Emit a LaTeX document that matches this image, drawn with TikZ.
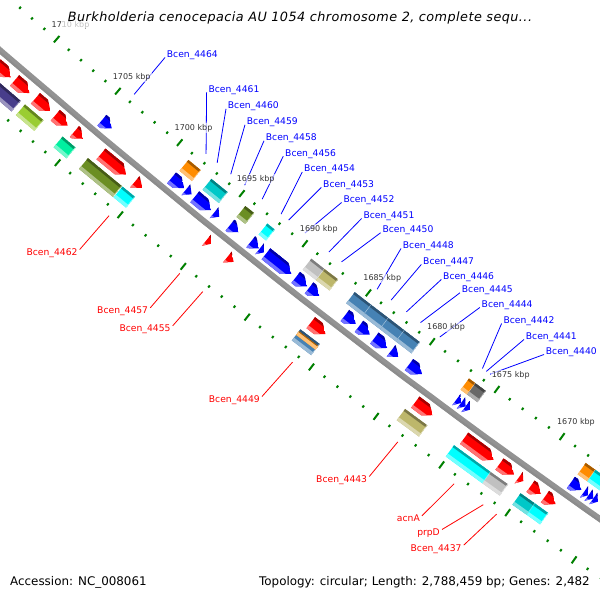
\documentclass[tikz,border=0pt]{standalone}
\usepackage{fontspec}
\setmainfont{DejaVu Sans}
\definecolor{gblue}{RGB}{0,0,255}
\definecolor{gred}{RGB}{255,0,0}
\definecolor{gorange}{RGB}{255,140,0}
\definecolor{gteal}{RGB}{0,200,200}
\definecolor{gcyan}{RGB}{0,255,255}
\definecolor{golive}{RGB}{107,142,35}
\definecolor{gsilver}{RGB}{192,192,192}
\definecolor{gkhaki}{RGB}{189,183,107}
\definecolor{gsteel}{RGB}{70,130,180}
\definecolor{gdim}{RGB}{105,105,105}
\definecolor{gslate}{RGB}{72,61,139}
\definecolor{glime}{RGB}{154,205,50}
\definecolor{gmint}{RGB}{0,240,160}
\definecolor{tickgreen}{RGB}{0,128,0}
\definecolor{kbpgray}{RGB}{51,51,51}
% gene: high kbp, low kbp, inner s, outer s, colour, 0 box / 1 head at low kbp
\newcommand{\gene}[6]{%
  \pgfmathsetmacro\ghd{min(0.55,#1-#2)}%
  \pgfmathsetmacro\gsm{(#3+#4)/2}%
  \ifcase#6
    \def\gshape{({kpa(#1)}:{rs(#3)}) -- ({kpa(#2)}:{rs(#3)}) -- ({kpa(#2)}:{rs(#4)}) -- ({kpa(#1)}:{rs(#4)}) -- cycle}%
  \or
    \pgfmathsetmacro\gph{#2+\ghd}%
    \def\gshape{({kpa(#1)}:{rs(#3)}) -- ({kpa(\gph)}:{rs(#3)}) -- ({kpa(#2)}:{rs(\gsm)}) -- ({kpa(\gph)}:{rs(#4)}) -- ({kpa(#1)}:{rs(#4)}) -- cycle}%
  \fi
  \begin{scope}
    \clip \gshape;
    \fill[#5] \gshape;
    \fill[#5!65!black] ({kpa(#1+0.3)}:{rs(#3-1)}) -- ({kpa(#2-0.3)}:{rs(#3-1)}) -- ({kpa(#2-0.3)}:{rs(#3+2.5)}) -- ({kpa(#1+0.3)}:{rs(#3+2.5)}) -- cycle;
    \fill[#5!55!white] ({kpa(#1+0.3)}:{rs(#4-3.5)}) -- ({kpa(#2-0.3)}:{rs(#4-3.5)}) -- ({kpa(#2-0.3)}:{rs(#4+1)}) -- ({kpa(#1+0.3)}:{rs(#4+1)}) -- cycle;
    \ifnum#6=0
      \draw[#5!45!white, line width=1.2pt] ({kpa(#2)}:{rs(#3)}) -- ({kpa(#2)}:{rs(#4)});
    \fi
  \end{scope}}
\begin{document}
\begin{tikzpicture}[x=1pt,y=1pt,
  declare function={kpa(\p)=-128.185-(\p-1690)*0.1291035; rs(\s)=7181+\s;},
  bl/.style={text=gblue, font=\fontsize{9.2}{10}\selectfont, inner sep=0pt},
  rl/.style={text=gred, font=\fontsize{9.2}{10}\selectfont, inner sep=0pt},
  bline/.style={gblue, line width=0.8pt},
  rline/.style={gred, line width=0.8pt},
  kbp/.style={text=kbpgray, font=\fontsize{8}{9}\selectfont, fill=white, fill opacity=0.6, text opacity=1, inner sep=1pt},
  tickmark/.style={tickgreen, line width=2pt},
  info/.style={font=\fontsize{11.9}{14}\selectfont, inner sep=0pt}]
\useasboundingbox (0,0) rectangle (600,600);
\fill[white] (0,0) rectangle (600,600);
\clip (0,0) rectangle (600,600);

\begin{scope}[shift={(4716,5965)}]
  % scale ticks
  \foreach \k in {1660,...,1716} {
    \pgfmathtruncatemacro\m{mod(\k,5)}
    \ifnum\m=0
      \draw[tickmark] ({kpa(\k)}:{rs(-49.5)}) -- ({kpa(\k)}:{rs(-41)});
      \draw[tickmark] ({kpa(\k)}:{rs(44)}) -- ({kpa(\k)}:{rs(52.5)});
    \else
      \draw[tickmark] ({kpa(\k)}:{rs(-46.3)}) -- ({kpa(\k)}:{rs(-43.7)});
      \draw[tickmark] ({kpa(\k)}:{rs(46.7)}) -- ({kpa(\k)}:{rs(49.3)});
    \fi
  }

  % inner strand, blue
  \gene{1704.6}{1703.8}{-20}{-6}{gblue}{1}
  \gene{1699.0}{1698.0}{-20}{-6}{gblue}{1}
  \gene{1697.85}{1697.4}{-20}{-6}{gblue}{1}
  \gene{1697.15}{1695.85}{-20}{-6}{gblue}{1}
  \gene{1695.6}{1695.2}{-20}{-6}{gblue}{1}
  \gene{1694.35}{1693.65}{-20}{-6}{gblue}{1}
  \gene{1692.7}{1692.05}{-20}{-6}{gblue}{1}
  \gene{1692.0}{1691.65}{-20}{-6}{gblue}{1}
  \gene{1691.5}{1689.5}{-20}{-6}{gblue}{1}
  \gene{1689.15}{1688.25}{-20}{-6}{gblue}{1}
  \gene{1688.1}{1687.3}{-20}{-6}{gblue}{1}
  \gene{1685.3}{1684.45}{-20}{-6}{gblue}{1}
  \gene{1684.2}{1683.35}{-20}{-6}{gblue}{1}
  \gene{1683.0}{1682.0}{-20}{-6}{gblue}{1}
  \gene{1681.7}{1681.1}{-20}{-6}{gblue}{1}
  \gene{1680.3}{1679.3}{-20}{-6}{gblue}{1}
  \gene{1676.65}{1676.3}{-20}{-6}{gblue}{1}
  \gene{1676.3}{1675.95}{-20}{-6}{gblue}{1}
  \gene{1675.95}{1675.6}{-20}{-6}{gblue}{1}
  \gene{1667.9}{1667.1}{-20}{-6}{gblue}{1}
  \gene{1666.9}{1666.55}{-20}{-6}{gblue}{1}
  \gene{1666.55}{1666.2}{-20}{-6}{gblue}{1}
  \gene{1666.2}{1665.85}{-20}{-6}{gblue}{1}

  \gene{1698.9}{1697.9}{-37.5}{-23.5}{gorange}{0}
  \gene{1697.05}{1695.75}{-37.5}{-23.5}{gteal}{0}
  \gene{1694.35}{1693.65}{-37.5}{-23.5}{golive}{0}
  \gene{1692.6}{1692.0}{-37.5}{-23.5}{gcyan}{0}
  \gene{1689.1}{1688.05}{-37.5}{-23.5}{gsilver}{0}
  \gene{1688.05}{1687.0}{-37.5}{-23.5}{gkhaki}{0}
  \gene{1685.7}{1684.4}{-37.5}{-23.5}{gsteel}{0}
  \gene{1684.4}{1683.05}{-37.5}{-23.5}{gsteel}{0}
  \gene{1683.05}{1681.8}{-37.5}{-23.5}{gsteel}{0}
  \gene{1681.8}{1680.6}{-37.5}{-23.5}{gsteel}{0}
  \gene{1676.8}{1676.3}{-37.5}{-23.5}{gorange}{0}
  \gene{1676.3}{1675.5}{-37.5}{-23.5}{gdim}{0}
  \gene{1667.85}{1667.1}{-37.5}{-23.5}{gorange}{0}
  \gene{1667.1}{1665.9}{-37.5}{-23.5}{gcyan}{0}

  % outer strand, red
  \gene{1711.8}{1710.6}{6.5}{20.5}{gred}{1}
  \gene{1710.3}{1709.1}{6.5}{20.5}{gred}{1}
  \gene{1708.6}{1707.4}{6.5}{20.5}{gred}{1}
  \gene{1707.0}{1706.0}{6.5}{20.5}{gred}{1}
  \gene{1705.45}{1704.75}{6.5}{20.5}{gred}{1}
  \gene{1703.3}{1701.3}{6.5}{20.5}{gred}{1}
  \gene{1700.6}{1700.0}{6.5}{20.5}{gred}{1}
  \gene{1694.9}{1694.55}{6.5}{20.5}{gred}{1}
  \gene{1693.25}{1692.75}{6.5}{20.5}{gred}{1}
  \gene{1686.7}{1685.55}{6.5}{20.5}{gred}{1}
  \gene{1678.6}{1677.25}{6.5}{20.5}{gred}{1}
  \gene{1674.85}{1672.6}{6.5}{20.5}{gred}{1}
  \gene{1672.15}{1671.05}{6.5}{20.5}{gred}{1}
  \gene{1670.7}{1670.35}{6.5}{20.5}{gred}{1}
  \gene{1669.8}{1669.0}{6.5}{20.5}{gred}{1}
  \gene{1668.7}{1667.9}{6.5}{20.5}{gred}{1}

  \gene{1711.0}{1709.2}{25}{39}{gslate}{0}
  \gene{1708.85}{1707.35}{25}{39}{glime}{0}
  \gene{1705.8}{1704.75}{25}{39}{gmint}{0}
  \gene{1703.75}{1701.05}{25}{39}{golive}{0}
  \gene{1701.0}{1700.0}{25}{39}{gcyan}{0}
  \gene{1686.95}{1685.45}{25}{39}{gsteel}{0}
  \gene{1686.95}{1685.45}{27.5}{32}{gorange}{0}
  \gene{1678.85}{1677.15}{25}{39}{gkhaki}{0}
  \gene{1675.1}{1672.3}{25}{39}{gcyan}{0}
  \gene{1672.3}{1671.0}{25}{39}{gsilver}{0}
  \gene{1670.05}{1668.95}{25}{39}{gteal}{0}
  \gene{1668.95}{1667.95}{25}{39}{gcyan}{0}

  % backbone
  \draw[line width=6pt, gray!85] plot[domain=1660:1716, samples=29] ({kpa(\x)}:{rs(0)});
  \draw[line width=2pt, gray!110!black] plot[domain=1660:1716, samples=29] ({kpa(\x)}:{rs(1.8)});

  % label anchors on the genes
  \foreach \n/\k in {4464/1704.1, 4461/1698.3, 4460/1697.4, 4459/1696.3, 4458/1695.2,
      4456/1693.8, 4454/1692.3, 4453/1691.7, 4452/1690.4, 4451/1688.5, 4450/1687.5,
      4448/1684.7, 4447/1683.6, 4446/1682.4, 4445/1681.3, 4444/1679.8, 4442/1676.5,
      4441/1676.2, 4440/1675.9}
    \coordinate (p\n) at ({kpa(\k)}:{rs(-53.5)});
  \foreach \n/\k in {4462/1700.5, 4457/1694.9, 4455/1693.1, 4449/1686.1, 4443/1678.0,
      acnA/1673.7, prpD/1671.5, 4437/1670.5}
    \coordinate (p\n) at ({kpa(\k)}:{rs(56)});
  \foreach \k in {1670,1675,...,1710}
    \coordinate (t\k) at ({kpa(\k)}:{rs(-45)});
\end{scope}

% gene labels
\foreach \n/\x/\y in {4464/166.7/542.5, 4461/208.3/507.5, 4460/227.7/491.2, 4459/246.7/475.2,
    4458/265.7/459.2, 4456/285/443.8, 4454/304/428, 4453/323/412.5, 4452/343.3/397.5,
    4451/363.3/381.5, 4450/382.3/367.2, 4448/402.7/351.5, 4447/423/335.5, 4446/443/320.5,
    4445/461.7/307.2, 4444/481.5/292.5, 4442/503.3/276.5, 4441/525.7/260.5, 4440/545.7/245.5} {
  \node[bl, anchor=base west] (b\n) at (\x,\y) {Bcen\_\n};
  \draw[bline] (p\n) -- ([xshift=-1.7pt]b\n.base west);
}
\foreach \n/\t/\x/\y in {4462/Bcen\_4462/77.7/344.5, 4457/Bcen\_4457/148.3/286.2,
    4455/Bcen\_4455/170.7/268.2, 4449/Bcen\_4449/260/197.5, 4443/Bcen\_4443/367.3/117.5,
    acnA/acnA/420/78.2, prpD/prpD/440/64.5, 4437/Bcen\_4437/461.7/48.8} {
  \node[rl, anchor=base east] (r\n) at (\x,\y) {\t};
  \draw[rline] (p\n) -- ([xshift=2pt,yshift=6pt]r\n.base east);
}

% scale labels
\foreach \k in {1670,1675,...,1710}
  \node[kbp] (k\k) at ([xshift=14pt,yshift=14.5pt]t\k) {\k\ kbp};

\node[font=\itshape\fontsize{12.8}{14}\selectfont\addfontfeature{LetterSpace=3.5}, fill=white, fill opacity=0.7, text opacity=1,
  inner xsep=5pt, inner ysep=4pt] (title) at (300,582)
  {Burkholderia cenocepacia AU 1054 chromosome 2, complete sequ...};
\node[info, anchor=base west] (acc) at (10,14.5) {Accession: NC\_008061};
\node[info, anchor=base east] (topo) at (590,14.5) {Topology: circular; Length: 2,788,459 bp; Genes: 2,482};
\end{tikzpicture}
\end{document}
